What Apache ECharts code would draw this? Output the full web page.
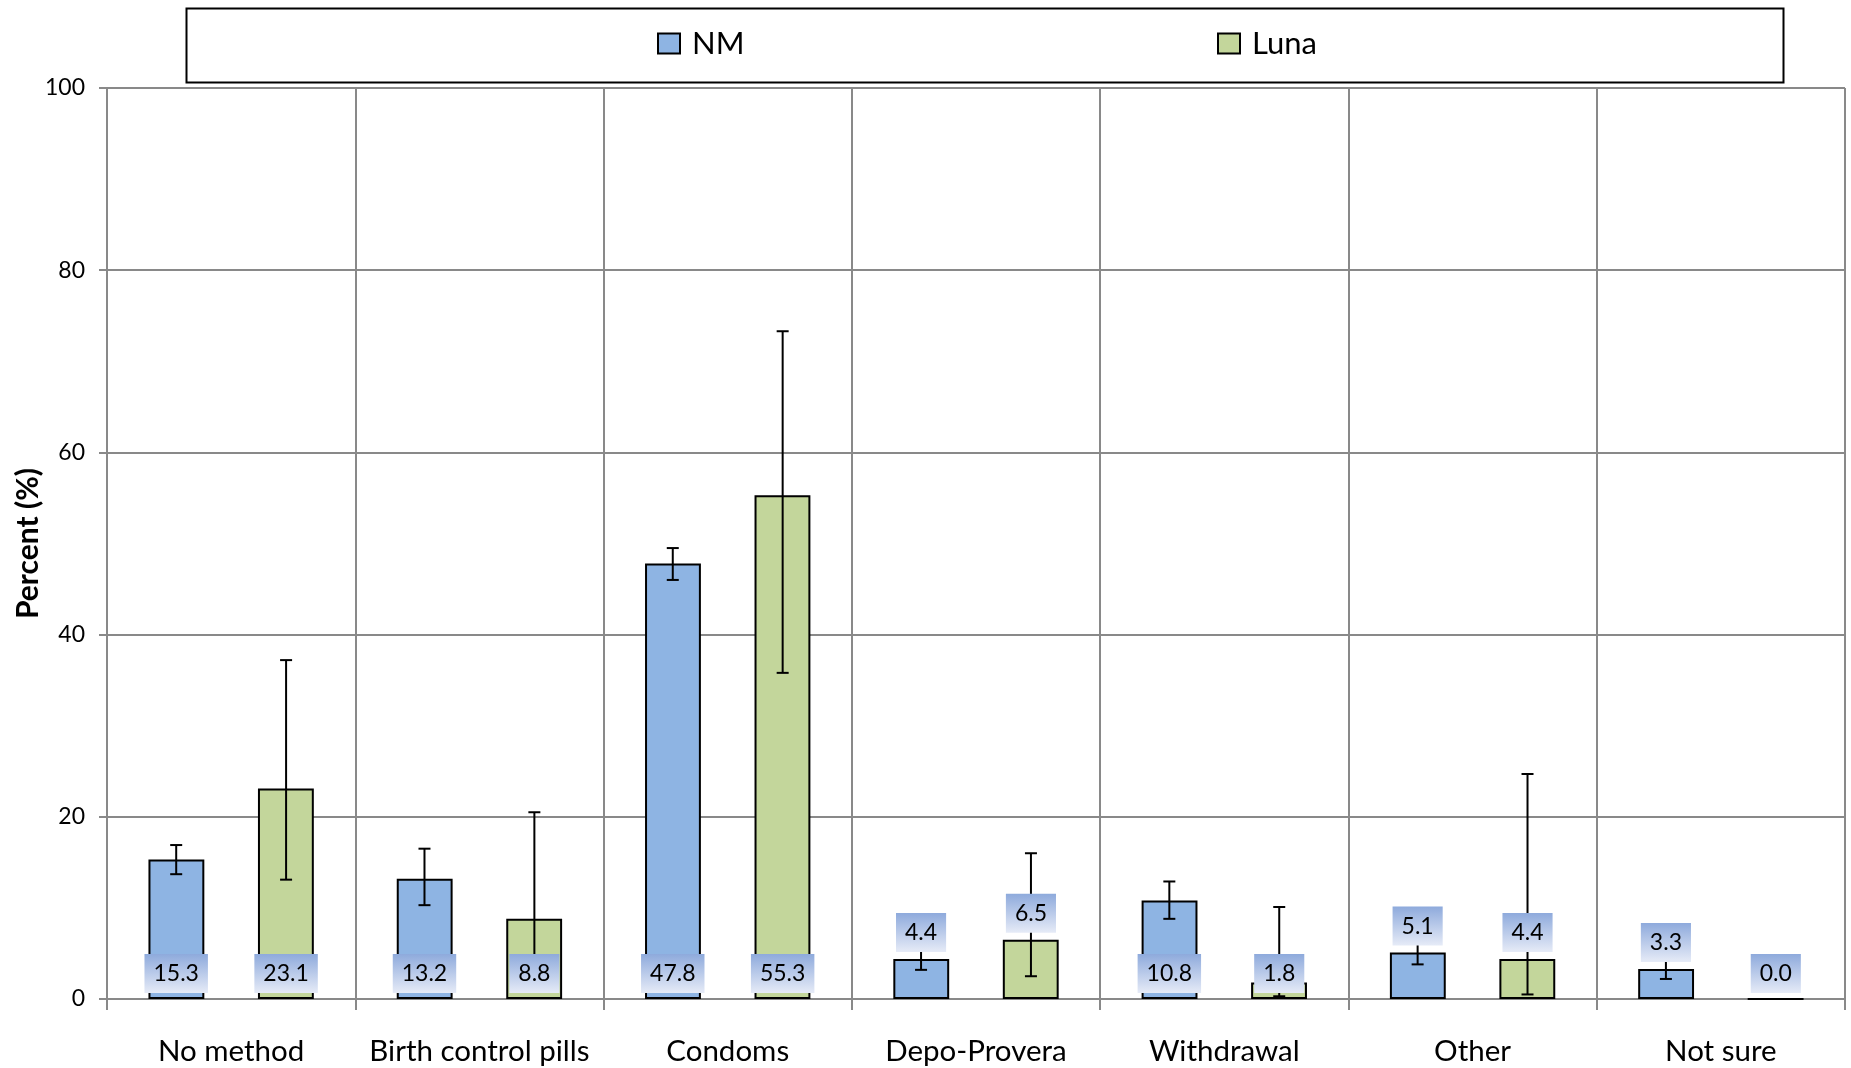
<!DOCTYPE html>
<html><head><meta charset="utf-8">
<script src="https://cdn.jsdelivr.net/npm/echarts@6/dist/echarts.min.js"></script>
<style>html,body{margin:0;padding:0;background:#fff}#c{width:1851px;height:1068px}</style>
</head><body><div id="c"></div>
<script>
const categories = ['No method', 'Birth control pills', 'Condoms', 'Depo-Provera', 'Withdrawal', 'Other', 'Not sure'];
const nmValues = [15.3, 13.2, 47.8, 4.4, 10.8, 5.1, 3.3];
const nmLow    = [13.7, 10.3, 46.0, 3.2, 8.8, 3.8, 2.2];
const nmHigh   = [16.9, 16.5, 49.5, 5.6, 12.9, 6.4, 4.4];
const lunaValues = [23.1, 8.8, 55.3, 6.5, 1.8, 4.4, 0.0];
const lunaLow    = [13.1, 2.5, 35.8, 2.5, 0.3, 0.5, null];
const lunaHigh   = [37.2, 20.5, 73.3, 16.0, 10.1, 24.7, null];
const yMin = 0, yMax = 100, yStep = 20;

const GRID = '#898989';
const FONT = 'Lato';

function labelBg() {
  return new echarts.graphic.LinearGradient(0, 0, 0, 1, [
    { offset: 0, color: '#8EAADC' },
    { offset: 1, color: '#E6EBF7' }
  ]);
}

function errSeries(name, values, low, high, sign) {
  return {
    type: 'custom', name: name, z: 5, silent: true,
    data: values.map((v, i) => [i, v]),
    encode: { x: 0, y: 1 },
    renderItem: function (params, api) {
      const i = params.dataIndex;
      const v = values[i];
      const c = api.coord([i, v]);
      const bw = api.size([1, 0])[0];
      const x = c[0] + sign * bw * 0.2213;
      const y0 = api.coord([i, 0])[1];
      const children = [];
      const lo = low[i], hi = high[i];
      if (lo != null && hi != null) {
        const yl = api.coord([i, lo])[1], yh = api.coord([i, hi])[1];
        const st = { stroke: '#000', lineWidth: 2 };
        children.push({ type: 'line', shape: { x1: x, y1: yl, x2: x, y2: yh }, style: st });
        children.push({ type: 'line', shape: { x1: x - 6, y1: yl, x2: x + 6, y2: yl }, style: st });
        children.push({ type: 'line', shape: { x1: x - 6, y1: yh, x2: x + 6, y2: yh }, style: st });
      }
      const above = v > 2 && v < 8;
      const by = above ? c[1] - 7 : y0 - 6;
      children.push({
        type: 'text', x: x, y: by, z2: 10,
        style: {
          text: v.toFixed(1), font: '23px ' + FONT, fill: '#000',
          align: 'center', verticalAlign: 'bottom', lineHeight: 24,
          padding: [8, 9, 7, 9], backgroundColor: labelBg()
        }
      });
      return { type: 'group', children: children };
    }
  };
}

const chart = echarts.init(document.getElementById('c'));
chart.setOption({
  animation: false,
  backgroundColor: '#fff',
  grid: { left: 107, right: 6, top: 88, bottom: 69, containLabel: false, outerBoundsMode: 'none' },
  graphic: [{
    type: 'rect', left: 184, top: 6, z: -1,
    shape: { width: 1597, height: 74 },
    style: { fill: null, stroke: '#000', lineWidth: 2 }
  }],
  legend: [
    { data: ['NM'], left: 657, top: 28, padding: 0, icon: 'rect', itemWidth: 22, itemHeight: 20, selectedMode: false,
      textStyle: { fontFamily: FONT, fontSize: 31, color: '#000', padding: [0, 0, 0, 7] } },
    { data: ['Luna'], left: 1217, top: 28, padding: 0, icon: 'rect', itemWidth: 22, itemHeight: 20, selectedMode: false,
      textStyle: { fontFamily: FONT, fontSize: 31, color: '#000', padding: [0, 0, 0, 7] } }
  ],
  xAxis: {
    type: 'category', data: categories,
    axisLine: { show: true, lineStyle: { color: GRID, width: 2 } },
    axisTick: { show: true, interval: 0, length: 11, lineStyle: { color: GRID, width: 2 } },
    splitLine: { show: true, interval: 0, lineStyle: { color: GRID, width: 2 } },
    axisLabel: { interval: 0, fontFamily: FONT, fontSize: 29.5, color: '#000', margin: 37 }
  },
  yAxis: {
    type: 'value', min: yMin, max: yMax, interval: yStep,
    name: 'Percent (%)', nameLocation: 'middle', nameGap: 64, nameMoveOverlap: false,
    nameTextStyle: { fontFamily: FONT, fontWeight: 'bold', fontSize: 30, color: '#000' },
    axisLine: { show: true, lineStyle: { color: GRID, width: 2 } },
    axisTick: { show: true, length: 8, lineStyle: { color: GRID, width: 2 } },
    splitLine: { show: true, lineStyle: { color: GRID, width: 2 } },
    axisLabel: { fontFamily: FONT, fontSize: 23, color: '#000', margin: 22 }
  },
  series: [
    { type: 'bar', name: 'NM', data: nmValues, barWidth: '22.5%', barGap: '96%', z: 2,
      itemStyle: { color: '#8EB4E3', borderColor: '#000', borderWidth: 2 } },
    { type: 'bar', name: 'Luna', data: lunaValues, barWidth: '22.5%', barGap: '96%', z: 2,
      itemStyle: { color: '#C3D69B', borderColor: '#000', borderWidth: 2 } },
    errSeries('NM err', nmValues, nmLow, nmHigh, -1),
    errSeries('Luna err', lunaValues, lunaLow, lunaHigh, 1)
  ]
});
</script>
</body></html>
